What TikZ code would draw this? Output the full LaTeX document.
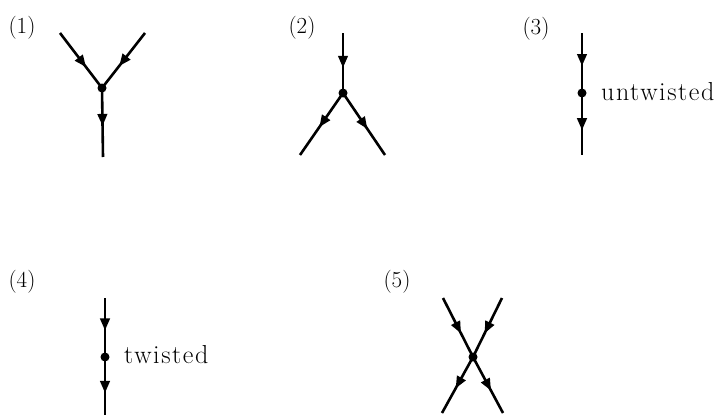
\documentclass[tikz,border=0pt]{standalone}
\usepackage{fontspec}
\usetikzlibrary{arrows.meta,decorations.markings}
\newfontfamily\wordfont{Latin Modern Roman}[LetterSpace=6]
\tikzset{
  edge/.style={line width=2.6pt},
  vtx/.style={circle,fill,inner sep=0pt,minimum size=9pt},
  flow/.style={postaction={decorate},
    decoration={markings,mark=at position #1 with {\arrow{Triangle[length=12pt,width=9.5pt]}}}},
  lbl/.style={font=\fontsize{23}{27}\selectfont,inner sep=0pt},
  txt/.style={font=\wordfont\fontsize{26}{30}\selectfont,inner sep=0pt,anchor=base west},
}
\begin{document}
\begin{tikzpicture}[x=1pt,y=-1pt]
  \useasboundingbox (0,0) rectangle (718,415);

  % (1) two lines flowing into a vertex, one flowing out
  \node[lbl] (l1) at (22,28) {(1)};
  \coordinate (a1) at (60,33);
  \coordinate (b1) at (145,33);
  \coordinate (c1) at (103,157);
  \node[vtx] (v1) at (102,88) {};
  \draw[edge,flow=0.62] (a1) -- (v1.center);
  \draw[edge,flow=0.6] (b1) -- (v1.center);
  \draw[edge,flow=0.55] (v1.center) -- (c1);

  % (2) one line in, two lines out
  \node[lbl] (l2) at (302,28) {(2)};
  \coordinate (a2) at (343,33);
  \coordinate (b2) at (300,155);
  \coordinate (c2) at (385,155);
  \node[vtx] (v2) at (343,93) {};
  \draw[edge,flow=0.58] (a2) -- (v2.center);
  \draw[edge,flow=0.55] (v2.center) -- (b2);
  \draw[edge,flow=0.58] (v2.center) -- (c2);

  % (3) untwisted two-valent vertex
  \node[lbl] (l3) at (536,29) {(3)};
  \coordinate (a3) at (582,33);
  \coordinate (b3) at (582,155);
  \node[vtx] (v3) at (582,93) {};
  \draw[edge,flow=0.55] (a3) -- (v3.center);
  \draw[edge,flow=0.6] (v3.center) -- (b3);
  \node[txt] (t3) at (601,100) {untwisted};

  % (4) twisted two-valent vertex
  \node[lbl] (l4) at (22,282) {(4)};
  \coordinate (a4) at (105,298);
  \coordinate (b4) at (105,415);
  \node[vtx] (v4) at (105,357) {};
  \draw[edge,flow=0.55] (a4) -- (v4.center);
  \draw[edge,flow=0.62] (v4.center) -- (b4);
  \node[txt] (t4) at (124,363) {twisted};

  % (5) crossing vertex
  \node[lbl] (l5) at (397,282) {(5)};
  \coordinate (a5) at (443,298);
  \coordinate (b5) at (502,298);
  \coordinate (c5) at (442,413);
  \coordinate (d5) at (503,413);
  \node[vtx] (v5) at (473,357) {};
  \draw[edge,flow=0.6] (a5) -- (v5.center);
  \draw[edge,flow=0.6] (b5) -- (v5.center);
  \draw[edge,flow=0.56] (v5.center) -- (c5);
  \draw[edge,flow=0.6] (v5.center) -- (d5);
\end{tikzpicture}
\end{document}
